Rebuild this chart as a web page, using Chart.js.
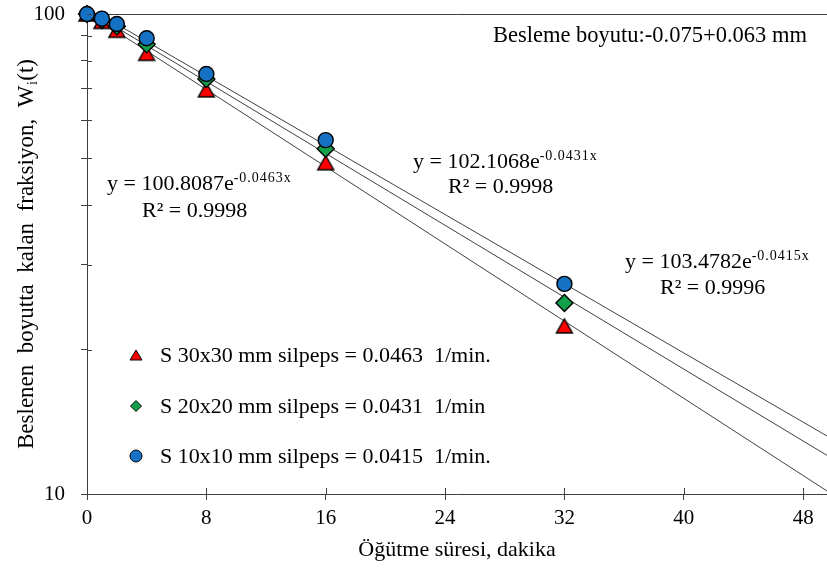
<!DOCTYPE html>
<html>
<head>
<meta charset="utf-8">
<script src="https://cdn.jsdelivr.net/npm/chart.js@4.4.1/dist/chart.umd.min.js"></script>
<style>
  html, body { margin: 0; padding: 0; background: #fff; }
  #chart { display: block; }
</style>
</head>
<body>
<canvas id="chart" width="827" height="575"></canvas>
<script>
// grinding time, min
const times = [0, 1, 2, 4, 8, 16, 32];
// fraction remaining in feed size, %
const s30 = [100, 96.5, 92.5, 82.8, 69.5, 49.0, 22.4];
const s20 = [100, 97.2, 94.3, 86.5, 73.2, 52.4, 25.0];
const s10 = [100, 97.8, 95.3, 89.0, 75.0, 54.6, 27.4];

// exponential trend lines, values at 0 and 50 min
const trendX = [0, 50];
const trend30 = [100.81, 9.96];
const trend20 = [102.11, 11.83];
const trend10 = [103.48, 12.99];

const seriesNames = [
  "S 30x30 mm silpeps = 0.0463  1/min.",
  "S 20x20 mm silpeps = 0.0431  1/min",
  "S 10x10 mm silpeps = 0.0415  1/min."
];
const fitCoef = ["100.8087", "102.1068", "103.4782"];
const fitExp = ["-0.0463x", "-0.0431x", "-0.0415x"];
const fitR2 = ["0.9998", "0.9998", "0.9996"];
const noteText = "Besleme boyutu:-0.075+0.063 mm";
const xTitle = "Öğütme süresi, dakika";
const yTitle = ["Beslenen  boyutta  kalan  fraksiyon,  W", "i", "(t)"];

const xTicks = [0, 8, 16, 24, 32, 40, 48];
const yTicks = [10, 20, 30, 40, 50, 60, 70, 80, 90, 100];
const yLabels = [10, 100];

const RED = "#ff0000";
const GREEN = "#10a04a";
const BLUE = "#1571c4";
const AXIS = "#404040";
const FONT = "'Liberation Serif', 'Times New Roman', serif";

function toPts(xs, ys) {
  return xs.map((x, i) => ({ x: x, y: ys[i] }));
}

// triangle centred on its box, like Excel markers
function triangleImg(w, h, lw) {
  const c = document.createElement("canvas");
  c.width = Math.round(w + 6);
  c.height = Math.round(h + 6);
  const g = c.getContext("2d");
  const cx = c.width / 2, cy = c.height / 2;
  g.beginPath();
  g.moveTo(cx, cy - h / 2);
  g.lineTo(cx + w / 2, cy + h / 2);
  g.lineTo(cx - w / 2, cy + h / 2);
  g.closePath();
  g.fillStyle = RED;
  g.fill();
  g.lineWidth = lw;
  g.strokeStyle = "#000";
  g.stroke();
  return c;
}
const triBig = triangleImg(16, 14, 1.4);

function trend(data) {
  return {
    data: toPts(trendX, data),
    showLine: true,
    borderColor: AXIS,
    borderWidth: 1,
    pointRadius: 0,
    order: 5
  };
}

const innerTicks = {
  id: "innerTicks",
  afterDraw(chart) {
    const ctx = chart.ctx;
    const a = chart.chartArea;
    const xs = chart.scales.x, ys = chart.scales.y;
    ctx.save();
    ctx.strokeStyle = AXIS;
    ctx.lineWidth = 1;
    ctx.beginPath();
    yTicks.forEach(v => {
      const y = Math.round(ys.getPixelForValue(v)) + 0.5;
      ctx.moveTo(a.left, y);
      ctx.lineTo(a.left + 5, y);
    });
    xTicks.forEach(v => {
      const x = Math.round(xs.getPixelForValue(v)) + 0.5;
      ctx.moveTo(x, a.bottom);
      ctx.lineTo(x, a.bottom - 6);
    });
    ctx.stroke();
    ctx.restore();
  }
};

const textPlugin = {
  id: "texts",
  afterDraw(chart) {
    const ctx = chart.ctx;
    const a = chart.chartArea;
    ctx.save();
    ctx.fillStyle = "#000";
    ctx.textBaseline = "alphabetic";
    ctx.textAlign = "left";

    // y axis title, rotated, with subscript
    ctx.save();
    ctx.translate(33, (a.top + a.bottom) / 2);
    ctx.rotate(-Math.PI / 2);
    ctx.font = "23px " + FONT;
    const w1 = ctx.measureText(yTitle[0]).width;
    const w3 = ctx.measureText(yTitle[2]).width;
    ctx.font = "14px " + FONT;
    const w2 = ctx.measureText(yTitle[1]).width + 1;
    let sx = -(w1 + w2 + w3) / 2;
    ctx.font = "23px " + FONT;
    ctx.fillText(yTitle[0], sx, 0);
    ctx.font = "14px " + FONT;
    ctx.fillText(yTitle[1], sx + w1 + 0.5, 4);
    ctx.font = "23px " + FONT;
    ctx.fillText(yTitle[2], sx + w1 + w2, 0);
    ctx.restore();

    // feed size note
    ctx.font = "22.5px " + FONT;
    ctx.fillText(noteText, 493, 42);

    // fit equations
    const pos = [[107, 190, 142, 217], [413, 168, 448, 193], [625, 268, 660, 294]];
    pos.forEach((p, i) => {
      ctx.font = "22px " + FONT;
      const main = "y = " + fitCoef[i] + "e";
      ctx.fillText(main, p[0], p[1]);
      const mw = ctx.measureText(main).width;
      ctx.font = "14px " + FONT;
      ctx.letterSpacing = "1px";
      ctx.fillText(fitExp[i], p[0] + mw, p[1] - 8);
      ctx.letterSpacing = "0px";
      ctx.font = "22px " + FONT;
      ctx.fillText("R² = " + fitR2[i], p[2], p[3]);
    });

    // legend
    const ly = [355, 406, 456];
    ly.forEach((y, i) => {
      const x = 136;
      ctx.lineWidth = 1;
      ctx.strokeStyle = "#000";
      ctx.beginPath();
      if (i === 0) {
        ctx.moveTo(x, y - 5);
        ctx.lineTo(x + 6, y + 5);
        ctx.lineTo(x - 6, y + 5);
        ctx.closePath();
        ctx.fillStyle = RED;
      } else if (i === 1) {
        ctx.moveTo(x, y - 5.5);
        ctx.lineTo(x + 5.5, y);
        ctx.lineTo(x, y + 5.5);
        ctx.lineTo(x - 5.5, y);
        ctx.closePath();
        ctx.fillStyle = GREEN;
      } else {
        ctx.arc(x, y, 6, 0, Math.PI * 2);
        ctx.fillStyle = BLUE;
      }
      ctx.fill();
      ctx.stroke();
      ctx.fillStyle = "#000";
      ctx.font = "22px " + FONT;
      ctx.fillText(seriesNames[i], 160, y + 7);
    });
    ctx.restore();
  }
};

new Chart(document.getElementById("chart"), {
  type: "scatter",
  data: {
    datasets: [
      {
        label: seriesNames[2],
        data: toPts(times, s10),
        pointStyle: "circle",
        pointRadius: 7.5,
        pointBackgroundColor: BLUE,
        pointBorderColor: "#000",
        pointBorderWidth: 1.4,
        clip: false,
        order: 0
      },
      {
        label: seriesNames[1],
        data: toPts(times, s20),
        pointStyle: "rectRot",
        pointRadius: 8.5,
        pointBackgroundColor: GREEN,
        pointBorderColor: "#000",
        pointBorderWidth: 1.4,
        clip: false,
        order: 1
      },
      {
        label: seriesNames[0],
        data: toPts(times, s30),
        pointStyle: triBig,
        clip: false,
        order: 2
      },
      trend(trend30),
      trend(trend20),
      trend(trend10)
    ]
  },
  options: {
    responsive: false,
    animation: false,
    devicePixelRatio: 1,
    layout: { autoPadding: false, padding: { top: 14, right: 0, bottom: 0, left: 0 } },
    plugins: {
      legend: { display: false },
      tooltip: { enabled: false }
    },
    scales: {
      x: {
        type: "linear",
        min: 0,
        max: 49.6,
        afterBuildTicks: s => { s.ticks = xTicks.map(v => ({ value: v })); },
        afterFit: s => { s.height = 81; s.paddingLeft = 0; s.paddingRight = 0; },
        border: { color: AXIS, width: 1 },
        grid: { drawOnChartArea: false, tickLength: 6, tickColor: AXIS },
        ticks: {
          color: "#000",
          font: { family: FONT, size: 21 },
          padding: 6,
          maxRotation: 0
        },
        title: {
          display: true,
          text: xTitle,
          color: "#000",
          font: { family: FONT, size: 22 },
          padding: { top: 0, bottom: 12 }
        }
      },
      y: {
        type: "logarithmic",
        min: 10,
        max: 100,
        afterBuildTicks: s => { s.ticks = yTicks.map(v => ({ value: v })); },
        afterFit: s => { s.width = 87; s.paddingTop = 0; s.paddingBottom = 0; },
        border: { color: AXIS, width: 1 },
        grid: {
          tickLength: 6,
          tickColor: AXIS,
          color: c => (c.tick && c.tick.value === 100 ? AXIS : "rgba(0,0,0,0)")
        },
        ticks: {
          color: "#000",
          font: { family: FONT, size: 21 },
          padding: 16,
          autoSkip: false,
          callback: v => (yLabels.includes(v) ? String(v) : "")
        }
      }
    }
  },
  plugins: [innerTicks, textPlugin]
});
</script>
</body>
</html>
